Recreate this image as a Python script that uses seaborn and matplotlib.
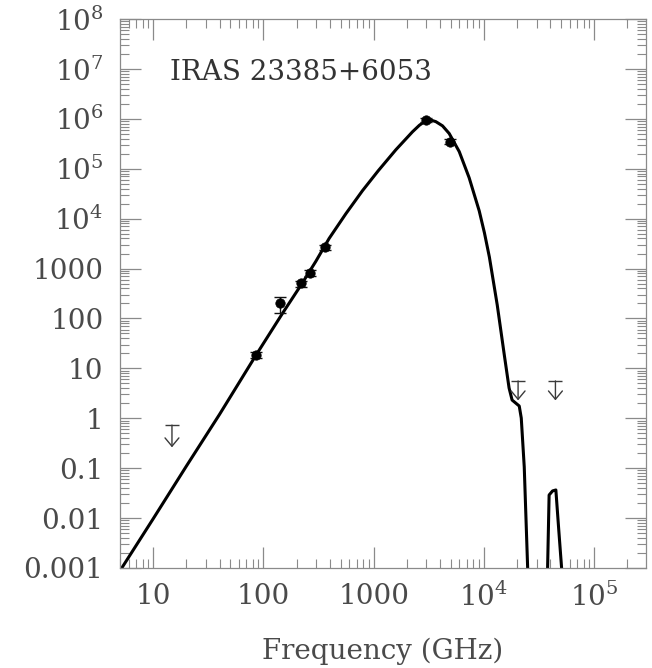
import numpy as np
import pandas as pd
import matplotlib
matplotlib.use("Agg")
import matplotlib.pyplot as plt
from matplotlib.ticker import FixedLocator, FixedFormatter, LogLocator, NullFormatter
import seaborn as sns

# ---------------- data ----------------
# observed flux densities (GHz, arbitrary flux units)
obs_freq = [86, 142, 221, 263, 359, 2990, 4940]
obs_flux = [18.6, 207, 505, 824, 2660, 950000, 350000]
obs_err_lo = [2.8, 77, 70, 110, 330, 100000, 40000]
obs_err_hi = [2.8, 65, 70, 110, 330, 100000, 40000]

# upper limits
lim_freq = [14.8, 20400, 44500]
lim_flux = [0.73, 5.6, 5.6]

# model SED, main component
model1_freq = [5.0, 10, 20, 40, 86, 149, 221, 299, 394, 560, 791, 1100, 1589,
               2249, 2600, 2974, 3300, 3664, 4210, 4840, 5970, 7340, 9060,
               10100, 11200, 13200, 15300, 16900, 18000, 20900, 21800, 23200,
               25000]
model1_flux = [0.00088, 0.0097, 0.11, 1.2, 18.7, 127, 480, 1400, 4000, 12600,
               36300, 91200, 240000, 550000, 745000, 916000, 944000, 877000,
               723000, 508000, 220000, 66000, 14300, 5200, 1700, 186, 18.5,
               4.05, 2.32, 1.76, 1.01, 0.106, 0.0008]
# model SED, near-IR bump
model2_freq = [37700, 39000, 41900, 44900, 47700, 51000]
model2_flux = [0.0008, 0.029, 0.035, 0.0366, 0.0058, 0.0008]

x_ticks = [10, 100, 1000, 1e4, 1e5]
x_labels = ["10", "100", "1000", r"$10^4$", r"$10^5$"]
y_ticks = [1e8, 1e7, 1e6, 1e5, 1e4, 1000, 100, 10, 1, 0.1, 0.01, 0.001]
y_labels = [r"$10^8$", r"$10^7$", r"$10^6$", r"$10^5$", r"$10^4$", "1000",
            "100", "10", "1", "0.1", "0.01", "0.001"]

source_name = "IRAS 23385+6053"
x_title = "Frequency (GHz)"

# ---------------- styling ----------------
sns.set_theme(style="ticks")
plt.rcParams["font.family"] = ["DejaVu Serif"]
plt.rcParams["mathtext.fontset"] = "dejavuserif"

tick_col = "#8a8a8a"
label_col = "#4a4a4a"
arrow_len_pt = [16, 14, 14]

fig = plt.figure(figsize=(6.52, 6.68), dpi=100)
ax = fig.add_axes([120 / 652, 1 - 568 / 668, (646 - 120) / 652, 549 / 668])
ax.set_xscale("log")
ax.set_yscale("log")

model = pd.DataFrame({
    "nu": model1_freq + model2_freq,
    "flux": model1_flux + model2_flux,
    "seg": [0] * len(model1_freq) + [1] * len(model2_freq),
})
sns.lineplot(data=model, x="nu", y="flux", units="seg", estimator=None,
             sort=False, color="black", lw=2.2, ax=ax, legend=False)

ax.errorbar(obs_freq, obs_flux, yerr=[obs_err_lo, obs_err_hi], fmt="none",
            ecolor="#111111", elinewidth=1.0, capsize=4.2, capthick=1.0,
            zorder=4)
sns.scatterplot(x=obs_freq, y=obs_flux, color="black", s=46,
                edgecolor="black", linewidth=0.5, ax=ax, zorder=5,
                legend=False)

# upper limits: horizontal bar with an open arrow pointing down
for xf, yf, L in zip(lim_freq, lim_flux, arrow_len_pt):
    ax.plot([xf], [yf], marker="_", markersize=10, mew=1.0,
            color="#3a3a3a", zorder=5)
    ax.annotate("", xy=(xf, yf), xytext=(0, -L), textcoords="offset points",
                arrowprops=dict(arrowstyle="<-,head_length=0.6,head_width=0.5",
                                color="#3a3a3a", lw=1.0, shrinkA=0, shrinkB=0,
                                mutation_scale=10))

ax.set_xlim(5, 2.95e5)
ax.set_ylim(1e-3, 1e8)

ax.xaxis.set_major_locator(FixedLocator(x_ticks))
ax.xaxis.set_major_formatter(FixedFormatter(x_labels))
ax.yaxis.set_major_locator(FixedLocator(y_ticks))
ax.yaxis.set_major_formatter(FixedFormatter(y_labels))
ax.xaxis.set_minor_locator(LogLocator(base=10, subs=np.arange(2, 10), numticks=30))
ax.yaxis.set_minor_locator(LogLocator(base=10, subs=np.arange(2, 10), numticks=30))
ax.xaxis.set_minor_formatter(NullFormatter())
ax.yaxis.set_minor_formatter(NullFormatter())

ax.tick_params(which="both", direction="in", top=True, right=True,
               color=tick_col, labelcolor=label_col, labelsize=20)
ax.tick_params(which="major", length=15, width=0.9)
ax.tick_params(which="minor", length=6.5, width=0.8)
ax.tick_params(axis="x", which="major", pad=11)
ax.tick_params(axis="y", which="major", pad=12)

for s in ax.spines.values():
    s.set_color(tick_col)
    s.set_linewidth(0.9)

ax.set_xlabel(x_title, fontsize=20, color=label_col, labelpad=18)
ax.set_ylabel("")

ax.text(0.095, 0.889, source_name, transform=ax.transAxes, fontsize=20,
        color="#333333", ha="left", va="baseline")

fig.savefig("out.png", dpi=100)
